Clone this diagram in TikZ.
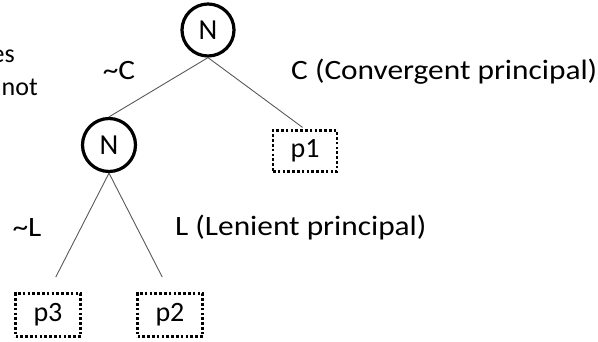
\documentclass[tikz,border=0pt]{standalone}
\usepackage{fontspec}
\setmainfont{Carlito}
\newcommand\tlabel[1]{\scalebox{1.12}[1]{#1}}
\tikzset{
  chance/.style={circle, draw=black, line width=3.2pt, minimum size=52pt, inner sep=0pt, font=\fontsize{29}{29}\selectfont},
  payoff/.style={rectangle, draw=black, line width=2.6pt, dash pattern=on 2.6pt off 2.2pt, minimum width=64pt, minimum height=41pt, inner sep=0pt, font=\fontsize{28}{28}\selectfont},
  edge/.style={draw=black!65, line width=0.9pt},
  lbl/.style={inner sep=0pt, font=\fontsize{28}{28}\selectfont},
  sidetxt/.style={inner sep=0pt, font=\fontsize{26}{26}\selectfont}
}
\begin{document}
\begin{tikzpicture}[x=1pt,y=-1pt]
\useasboundingbox (0,0) rectangle (598,341);
\node[chance] (N1) at (208,30) {N};
\node[chance, minimum size=53pt] (N2) at (109,145) {N};
\node[payoff] (p1) at (305,151) {p1};
\node[payoff, minimum width=65pt, minimum height=43pt] (p3) at (48,315) {p3};
\node[payoff, minimum width=65pt, minimum height=43pt] (p2) at (170,315) {p2};
\draw[edge] (N1.south) -- (N2.north);
\draw[edge, shorten >=3pt] (N1.south) -- (p1.north);
\draw[edge, shorten >=17pt] (N2.south) -- (p3.north);
\draw[edge, shorten >=17pt] (N2.south) -- (p2.north);
\node[lbl] (lc) at (119,71) {\tlabel{\char"7E C}};
\node[lbl, anchor=west] (rc) at (291,72) {\tlabel{C (Convergent principal)}};
\node[lbl] (ll) at (27,228) {\tlabel{\char"7E L}};
\node[lbl, anchor=west] (rl) at (175,228) {\tlabel{L (Lenient principal)}};
\node[sidetxt, anchor=base east] (es) at (15,62) {es};
\node[sidetxt, anchor=base east] (nt) at (38,95) {not};
\end{tikzpicture}
\end{document}
